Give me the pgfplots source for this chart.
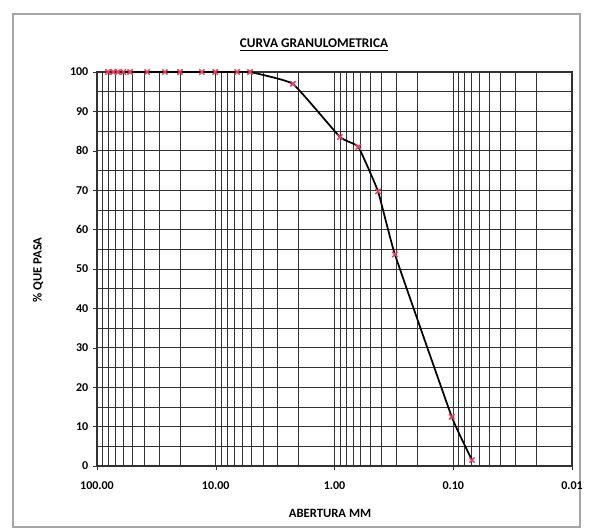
\documentclass[border=0pt]{standalone}
\usepackage{fontspec}
\setmainfont{Carlito}
\usepackage{pgfplots}
\pgfplotsset{compat=1.18}

\definecolor{gridgray}{RGB}{50,50,50}
\definecolor{markred}{RGB}{235,60,90}

\begin{document}
\begin{tikzpicture}
% page area and the chart frame
\path[use as bounding box] (-72.75pt,-47.25pt) rectangle (371.25pt,349.5pt);
\draw[black!35, line width=0.9pt] (-63pt,-45.75pt) rectangle (362.25pt,339pt);

\begin{axis}[
  scale only axis,
  width=356.25pt, height=295.5pt,
  xmode=log, log basis x=10,
  x dir=reverse,
  xmin=0.01, xmax=100,
  ymin=0, ymax=100,
  xtick={100,10,1,0.1,0.01},
  xticklabels={100.00,10.00,1.00,0.10,0.01},
  minor xtick={20,30,40,50,60,70,80,90,
               2,3,4,5,6,7,8,9,
               0.2,0.3,0.4,0.5,0.6,0.7,0.8,0.9,
               0.02,0.03,0.04,0.05,0.06,0.07,0.08,0.09},
  ytick={0,10,...,100},
  minor ytick={5,15,...,95},
  grid=both,
  major grid style={gridgray, line width=0.75pt},
  minor grid style={gridgray, line width=0.6pt},
  axis line style={gridgray, line width=0.8pt},
  tick style={gridgray},
  major tick length=3pt, minor tick length=0pt,
  tick align=outside,
  xtick pos=bottom, ytick pos=left,
  xticklabel style={font=\fontsize{9}{10}\selectfont\bfseries, yshift=-5pt},
  yticklabel style={font=\fontsize{9}{10}\selectfont\bfseries},
  /pgf/number format/assume math mode=true,
  clip=true,
]
% cumulative percent passing vs sieve opening (mm)
\addplot[black, line width=1.3pt, smooth, tension=0.2,
  mark=x, mark size=2.8pt,
  mark options={markred, line width=1.1pt, solid}]
coordinates {
  (80.8,100) (73,100) (66.6,100) (60,100) (52.7,100)
  (37.9,100) (26.8,100) (20,100) (13.1,100) (10.1,100)
  (6.6,100) (5.15,100) (2.24,97) (0.90,83.5) (0.63,81)
  (0.43,69.7) (0.31,53.7) (0.103,12.5) (0.0695,1.5)
};
\end{axis}

\node[font=\fontsize{10}{12}\selectfont\bfseries] at (162.75pt,315.75pt) {\underline{CURVA GRANULOMETRICA}};
\node[font=\fontsize{9.5}{11}\selectfont\bfseries] at (174.75pt,-35.25pt) {ABERTURA MM};
\node[font=\fontsize{9.5}{11}\selectfont\bfseries, rotate=90] at (-44.25pt,147pt) {\% QUE PASA};
\end{tikzpicture}
\end{document}
